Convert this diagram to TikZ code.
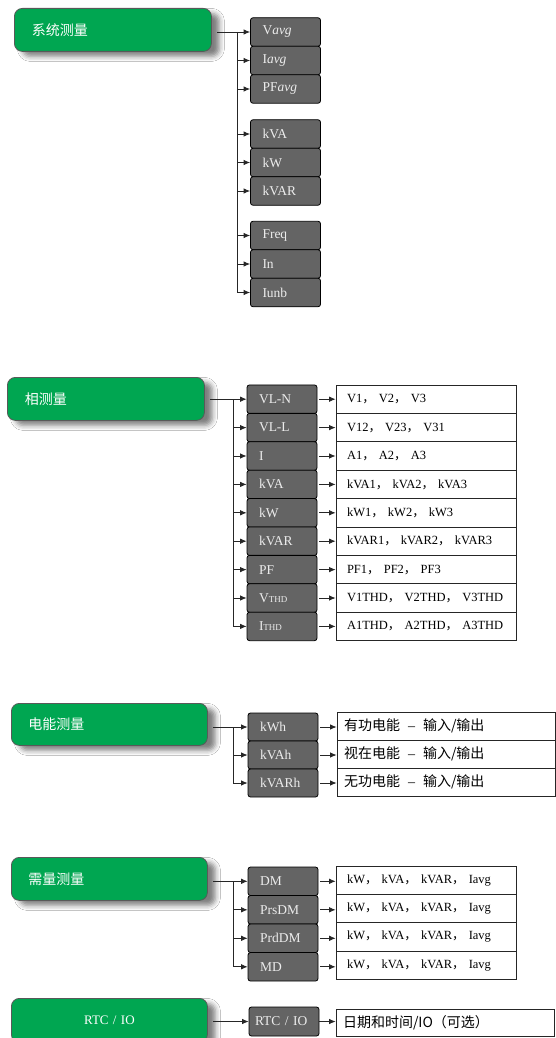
\documentclass[tikz,border=0pt]{standalone}
\usepackage{fontspec}
\setmainfont{Liberation Serif}
\newfontfamily\cjk{Noto Sans CJK SC}
\usetikzlibrary{shadows.blur,arrows.meta}
\definecolor{mgreen}{RGB}{0,166,81}
\definecolor{dgray}{RGB}{100,100,100}
\definecolor{ltext}{RGB}{236,236,236}
\newcommand\zhc{{\cjk ，}}
\newcommand\zhdash{\hspace{8pt}{\rmfamily –}\hspace{8pt}}
\tikzset{
  greenbox/.style={draw=black!65, line width=0.8pt, fill=mgreen, rounded corners=8pt,
    minimum width=197pt, minimum height=43pt, anchor=north west, text=white,
    font=\cjk\fontsize{14}{16}\selectfont, align=left, text width=162pt, inner xsep=17pt,
    blur shadow={shadow xshift=8pt, shadow yshift=-5pt, shadow blur radius=5pt, shadow opacity=50}},
  darkbox/.style={draw=black, line width=0.8pt, fill=dgray, rounded corners=2.5pt,
    minimum height=28.5pt, text width=46pt, inner xsep=12pt, inner ysep=0pt, align=left,
    text=ltext, font=\fontsize{13.5}{15}\selectfont},
  whitebox/.style={draw=black!85, line width=0.8pt, fill=white, minimum height=28.5pt,
    text width=158pt, inner xsep=11pt, inner ysep=0pt, align=left,
    font=\fontsize{12.5}{15}\selectfont},
  conn/.style={draw=black!85, line width=0.8pt},
  arr/.style={conn, -{Latex[length=6.5pt,width=5.5pt]}},
}
\begin{document}
\begin{tikzpicture}[x=1pt,y=-1pt]
\useasboundingbox[fill=white] (0,0) rectangle (555,1038);

% ---------- section 1 ----------
\node[greenbox] (g1) at (14,8) {系统测量};
\node[darkbox] (a1) at (285.5,32)  {V\textit{avg}};
\node[darkbox] (a2) at (285.5,60.5) {I\textit{avg}};
\node[darkbox] (a3) at (285.5,89)  {PF\textit{avg}};
\node[darkbox] (a4) at (285.5,134) {kVA};
\node[darkbox] (a5) at (285.5,162.5) {kW};
\node[darkbox] (a6) at (285.5,191) {kVAR};
\node[darkbox] (a7) at (285.5,235.5) {Freq};
\node[darkbox] (a8) at (285.5,264) {In};
\node[darkbox] (a9) at (285.5,292.5) {Iunb};
\coordinate (t1) at (237,0);
\draw[arr] ([xshift=5pt]g1.east |- a1.west) -- (a1.west);
\draw[conn] (t1 |- a1.west) -- (t1 |- a9.west);
\foreach \n in {a2,a3,a4,a5,a6,a7,a8,a9}
  \draw[arr] (t1 |- \n.west) -- (\n.west);

% ---------- section 2 ----------
\node[greenbox] (g2) at (7,377) {相测量};
\foreach \n/\t/\v [count=\i from 0] in {
  b1/VL-N/{V1\zhc{} V2\zhc{} V3},
  b2/VL-L/{V12\zhc{} V23\zhc{} V31},
  b3/I/{A1\zhc{} A2\zhc{} A3},
  b4/kVA/{kVA1\zhc{} kVA2\zhc{} kVA3},
  b5/kW/{kW1\zhc{} kW2\zhc{} kW3},
  b6/kVAR/{kVAR1\zhc{} kVAR2\zhc{} kVAR3},
  b7/PF/{PF1\zhc{} PF2\zhc{} PF3},
  b8/{V{\fontsize{9}{9}\selectfont THD}}/{V1THD\zhc{} V2THD\zhc{} V3THD},
  b9/{I{\fontsize{9}{9}\selectfont THD}}/{A1THD\zhc{} A2THD\zhc{} A3THD}}
{
  \node[darkbox] (\n) at (282,399.2+28.4*\i) {\t};
  \node[whitebox] (\n w) at (426,399.2+28.4*\i) {\v};
  \draw[arr] ([xshift=2pt]\n.east) -- (\n.east -| \n w.west);
}
\coordinate (t2) at (233,0);
\draw[arr] ([xshift=5pt]g2.east |- b1.west) -- (b1.west);
\draw[conn] (t2 |- b1.west) -- (t2 |- b9.west);
\foreach \n in {b2,b3,b4,b5,b6,b7,b8,b9}
  \draw[arr] (t2 |- \n.west) -- (\n.west);

% ---------- section 3 ----------
\node[greenbox, minimum width=196pt, minimum height=42pt] (g3) at (11,703) {电能测量};
\foreach \n/\t/\v [count=\i from 0] in {
  c1/kWh/{有功电能\zhdash 输入/输出},
  c2/kVAh/{视在电能\zhdash 输入/输出},
  c3/kVARh/{无功电能\zhdash 输入/输出}}
{
  \node[darkbox, minimum height=28pt] (\n) at (283,727+28*\i) {\t};
  \node[whitebox, minimum height=28pt, text width=204pt, inner xsep=7pt,
        font=\cjk\fontsize{14}{16}\selectfont] (\n w) at (446,726+28*\i) {\v};
  \draw[arr] ([xshift=2pt]\n.east) -- (\n.east -| \n w.west);
}
\coordinate (t3) at (233,0);
\draw[arr] ([xshift=5pt]g3.east |- c1.west) -- (c1.west);
\draw[conn] (t3 |- c1.west) -- (t3 |- c3.west);
\foreach \n in {c2,c3}
  \draw[arr] (t3 |- \n.west) -- (\n.west);

% ---------- section 4 ----------
\node[greenbox, minimum width=196pt, minimum height=43pt] (g4) at (11,857) {需量测量};
\foreach \n/\t [count=\i from 0] in {d1/DM, d2/PrsDM, d3/PrdDM, d4/MD}
{
  \node[darkbox] (\n) at (283,881.3+28.5*\i) {\t};
  \node[whitebox, minimum height=28.3pt] (\n w) at (426,880.2+28.3*\i)
     {kW\zhc{} kVA\zhc{} kVAR\zhc{} Iavg};
  \draw[arr] ([xshift=2pt]\n.east) -- (\n.east -| \n w.west);
}
\coordinate (t4) at (233,0);
\draw[arr] ([xshift=5pt]g4.east |- d1.west) -- (d1.west);
\draw[conn] (t4 |- d1.west) -- (t4 |- d4.west);
\foreach \n in {d2,d3,d4}
  \draw[arr] (t4 |- \n.west) -- (\n.west);

% ---------- section 5 ----------
\node[greenbox, minimum width=196pt, minimum height=44pt, align=center,
      font=\fontsize{13}{15}\selectfont] (g5) at (11,998) {RTC / IO};
\node[darkbox, minimum height=29pt, text width=58pt, inner xsep=6pt] (e1) at (284,1021.5) {RTC / IO};
\node[whitebox, minimum height=27pt, text width=204pt, inner xsep=7pt,
      font=\cjk\fontsize{14}{16}\selectfont] (e1w) at (445,1022.5) {日期和时间/IO（可选）};
\draw[arr] ([xshift=5pt]g5.east |- e1.west) -- (e1.west);
\draw[arr] (e1.east) -- (e1.east -| e1w.west);
\end{tikzpicture}
\end{document}
